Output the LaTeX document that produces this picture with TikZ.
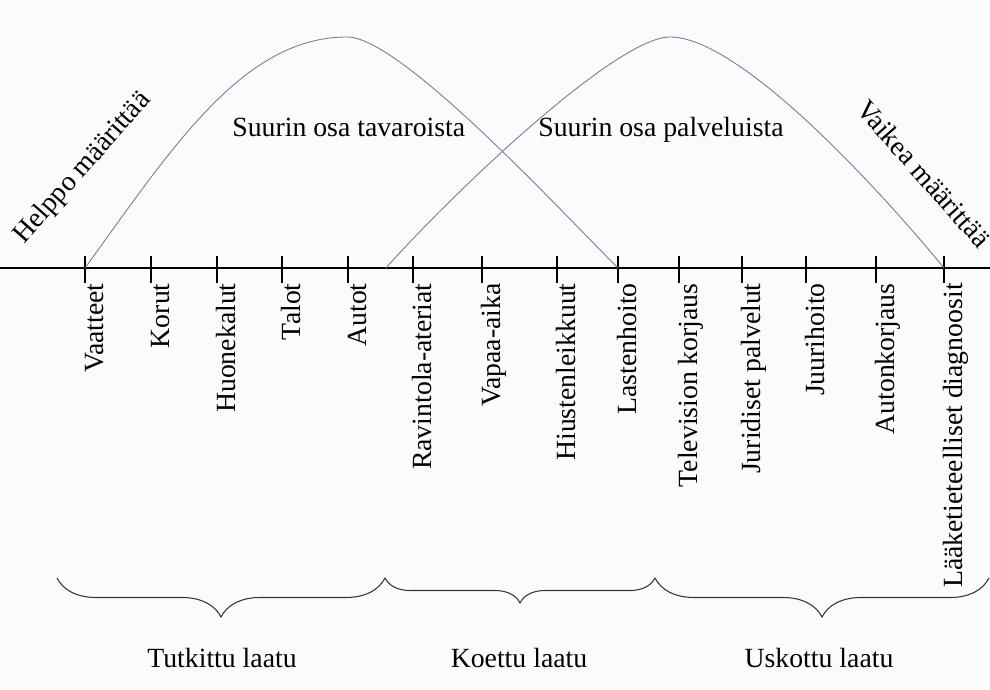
\documentclass[tikz,border=0pt]{standalone}
\usepackage{fontspec}
\setmainfont{Liberation Serif}
\usetikzlibrary{decorations.pathreplacing}
\definecolor{arccol}{RGB}{118,120,165}
\definecolor{paper}{RGB}{250,252,251}
\tikzset{
  txt/.style={font=\fontsize{15.8}{19}\selectfont, inner sep=0pt},
  item/.style={txt, rotate=90, anchor=base east},
  bracket/.style={decorate, decoration={brace, mirror, amplitude=#1}, draw=black!80, line width=0.6pt}
}
\begin{document}
\begin{tikzpicture}[x=0.2mm,y=0.2mm]
\fill[paper] (0,0) rectangle (990,-690);
\useasboundingbox (0,0) rectangle (990,-690);

\coordinate (axisL) at (0,-268);
\coordinate (axisR) at (990,-268);
\draw[line width=0.8pt] (axisL) -- (axisR);

\foreach \x/\name/\lbl in {85/vaatteet/Vaatteet, 151/korut/Korut, 217/huonekalut/Huonekalut,
  282/talot/Talot, 348/autot/Autot, 413/ravintola/Ravintola-ateriat, 482/vapaa/Vapaa-aika,
  557/hiusten/Hiustenleikkuut, 618/lasten/Lastenhoito, 679/tv/Television korjaus,
  742/juridiset/Juridiset palvelut, 806/juuri/Juurihoito, 876/auto/Autonkorjaus,
  944/laake/Lääketieteelliset diagnoosit}
{
  \coordinate (\name) at (\x,-268);
  \draw[line width=0.8pt] (\x,-256) -- (\x,-283);
  \node[item] (l-\name) at (\x+18,-283) {\lbl};
}

\coordinate (top1) at (347,-37);
\coordinate (top2) at (670,-37);
\coordinate (start2) at (386,-268);
\draw[arccol, line width=0.5pt] (vaatteet) .. controls (172,-148) and (243,-37) .. (top1)
  .. controls (400,-37) and (555,-205) .. (lasten);
\draw[arccol, line width=0.5pt] (start2) .. controls (446,-200) and (615,-37) .. (top2)
  .. controls (740,-37) and (880,-190) .. (laake);

\node[txt, anchor=base west] (tavarat) at (232,-137) {Suurin osa tavaroista};
\node[txt, anchor=base west] (palvelut) at (538,-137) {Suurin osa palveluista};
\node[txt, rotate=48.6, anchor=base west] (helppo) at (24,-245) {Helppo määrittää};
\node[txt, rotate=-48.5, anchor=base west] (vaikea) at (855,-110) {Vaikea määrittää};

\coordinate (b0) at (57,-578);
\coordinate (b1) at (385,-578);
\coordinate (b2) at (655,-578);
\coordinate (b3) at (989,-578);
\draw[bracket=7.8mm] (b0) -- (b1);
\draw[bracket=5mm] (b1) -- (b2);
\draw[bracket=7.8mm] (b2) -- (b3);

\node[txt, anchor=base] (tutkittu) at (222,-667) {Tutkittu laatu};
\node[txt, anchor=base] (koettu) at (519,-667) {Koettu laatu};
\node[txt, anchor=base] (uskottu) at (819,-667) {Uskottu laatu};
\end{tikzpicture}
\end{document}
